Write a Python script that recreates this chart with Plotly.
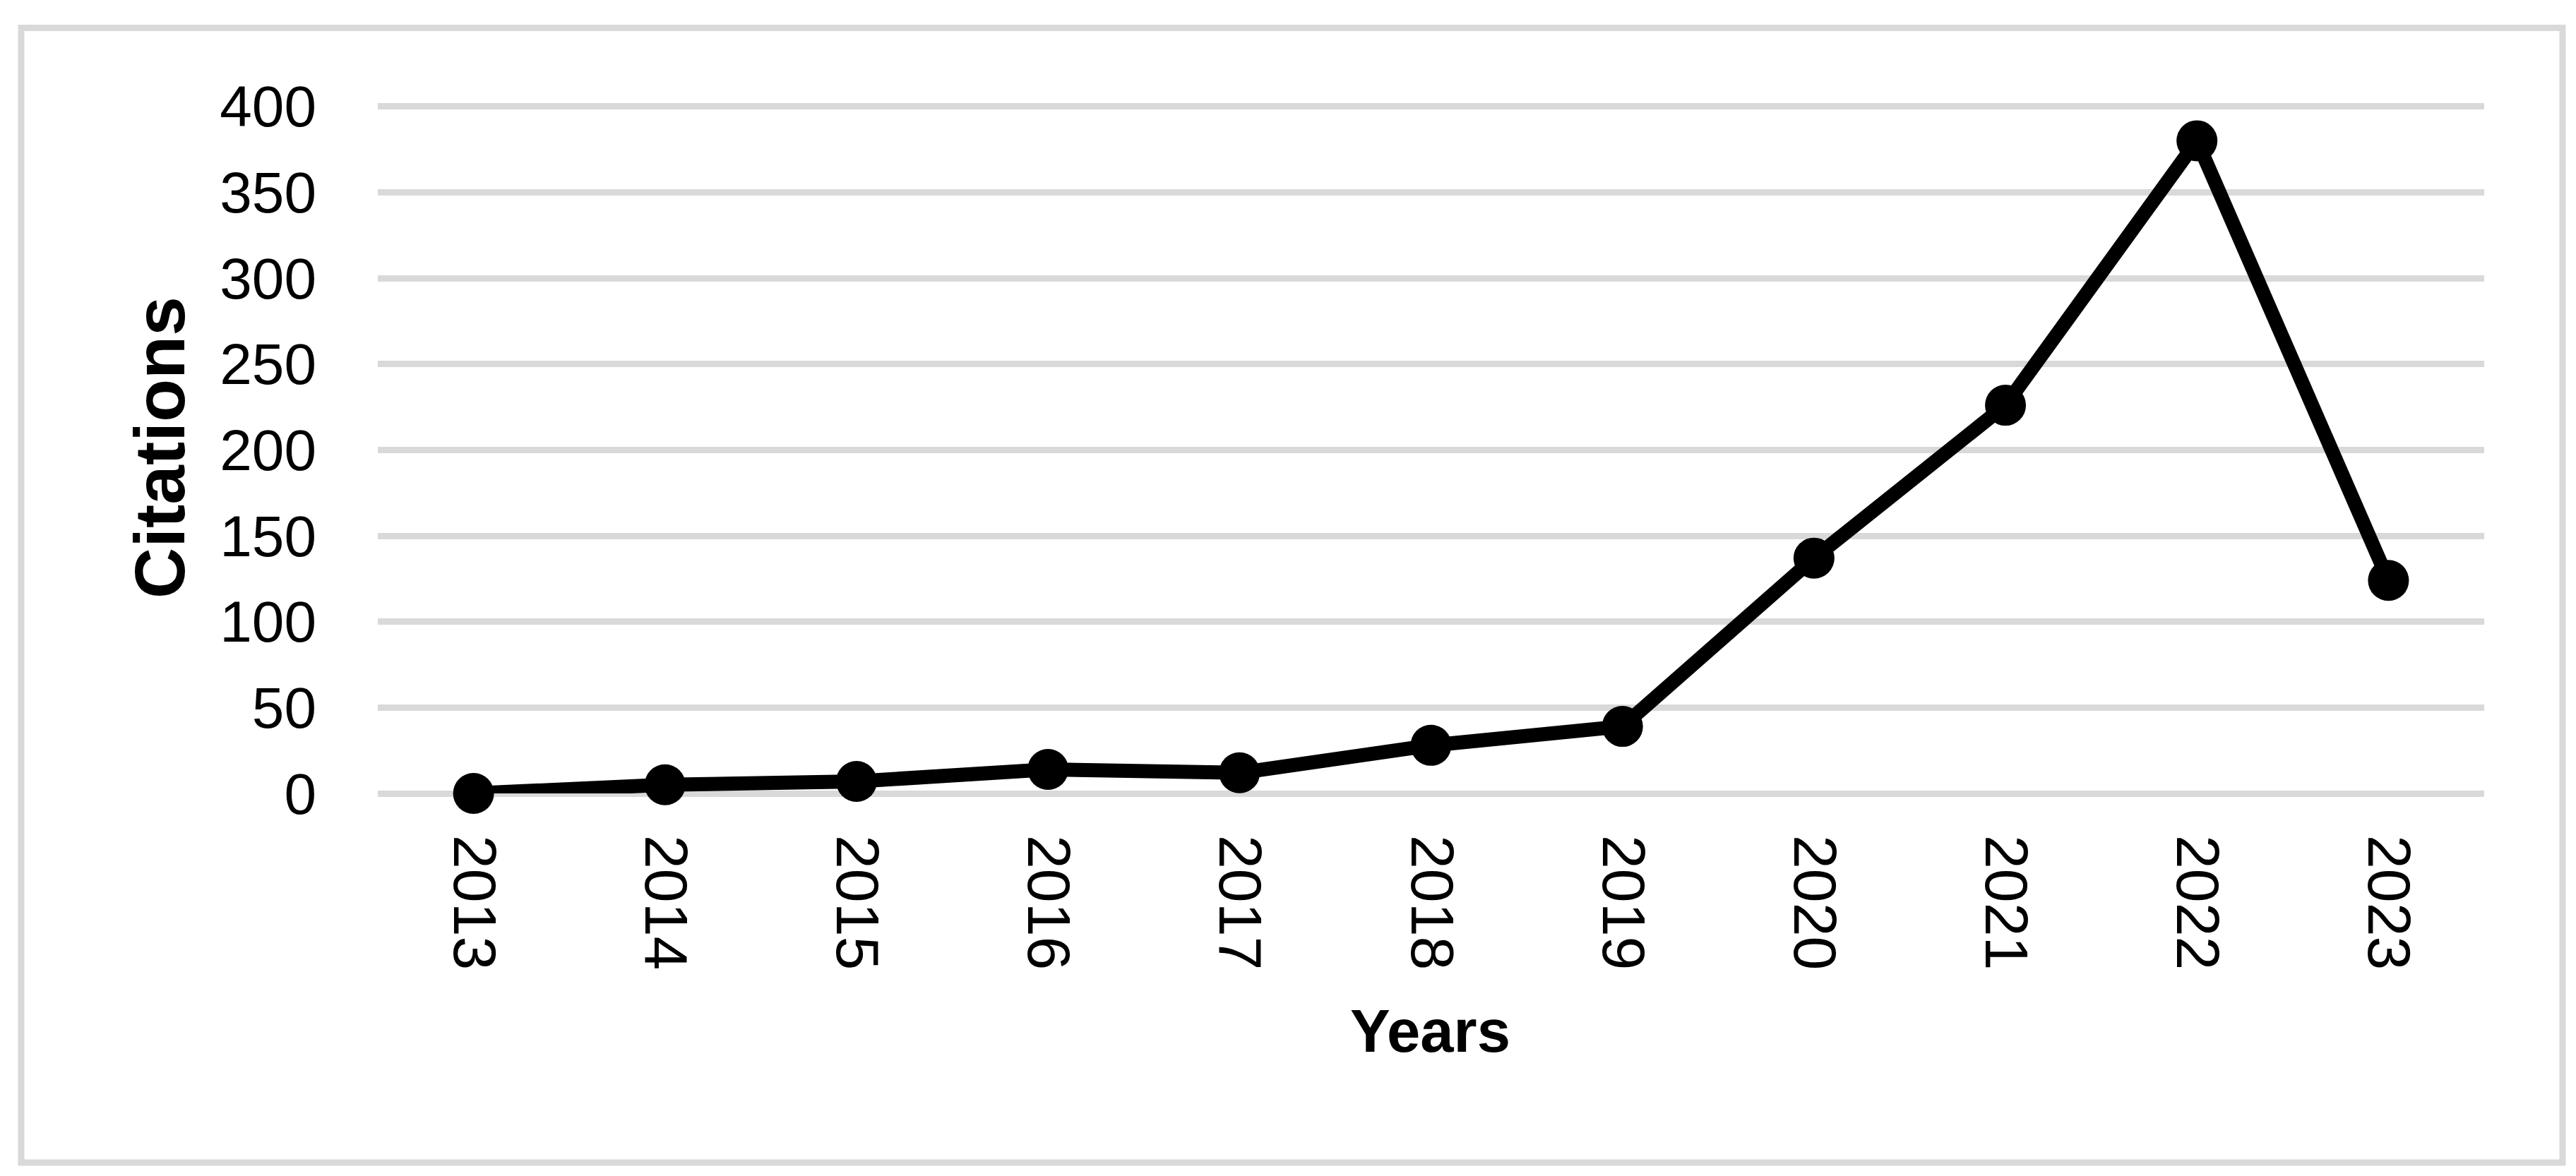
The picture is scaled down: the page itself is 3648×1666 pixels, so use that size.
import plotly.graph_objects as go

years = ["2013", "2014", "2015", "2016", "2017", "2018", "2019", "2020", "2021", "2022", "2023"]
citations = [0, 5, 7, 14, 12, 28, 39, 137, 226, 380, 124]
y_ticks = [0, 50, 100, 150, 200, 250, 300, 350, 400]

W, H = 3648, 1666
L, R, T, B = 527, 3510, 133, 1116  # plot area in pixels (y range 0..404)
pw, ph = R - L, B - T

def px(x):
    return (x - L) / pw

def py(y):
    return (B - y) / ph

fig = go.Figure()
fig.add_trace(go.Scatter(
    x=years, y=citations, mode="lines+markers",
    line=dict(color="black", width=20),
    marker=dict(color="black", size=58, line=dict(width=0)),
    cliponaxis=False, showlegend=False,
))

fig.update_layout(
    width=W, height=H,
    margin=dict(l=L, r=W - R, t=T, b=H - B),
    paper_bgcolor="white", plot_bgcolor="white",
    font=dict(family="Liberation Sans", color="black"),
    xaxis=dict(
        type="category", range=[-0.5, 10.5], showgrid=False, zeroline=False,
        showline=False, tickangle=90, ticks="", ticklabelstandoff=58,
        tickfont=dict(size=86, family="Liberation Sans", color="black"),
    ),
    yaxis=dict(
        range=[0, 404], tickvals=y_ticks, showgrid=True, gridcolor="#d9d9d9",
        gridwidth=9, zeroline=True, zerolinecolor="#d9d9d9", zerolinewidth=9,
        showline=False, ticks="", ticklabelstandoff=86,
        tickfont=dict(size=82, family="Liberation Sans", color="black"),
    ),
    shapes=[dict(
        type="rect", xref="paper", yref="paper",
        x0=px(22), x1=px(3621), y0=py(1639), y1=py(31.5),
        line=dict(color="#d9d9d9", width=9), fillcolor="rgba(0,0,0,0)", layer="below",
    )],
    annotations=[
        dict(text="<b>Citations</b>", xref="paper", yref="paper", x=px(218), y=py(626),
             textangle=-90, showarrow=False, xanchor="center", yanchor="middle",
             font=dict(size=100, family="Liberation Sans", color="black")),
        dict(text="<b>Years</b>", xref="paper", yref="paper", x=px(2017), y=py(1453),
             showarrow=False, xanchor="center", yanchor="middle",
             font=dict(size=85, family="Liberation Sans", color="black")),
    ],
)

fig.write_html("out.html")
